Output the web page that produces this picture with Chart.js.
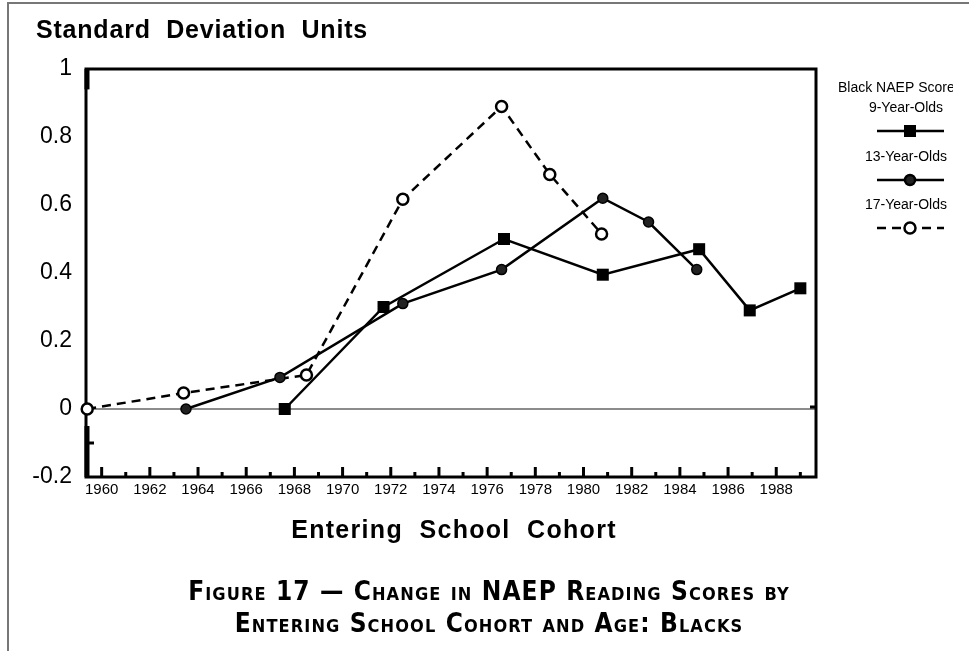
<!DOCTYPE html>
<html>
<head>
<meta charset="utf-8">
<script src="https://cdn.jsdelivr.net/npm/chart.js@4.4.0/dist/chart.umd.min.js"></script>
<style>
  body { margin: 0; background: #fff; font-family: "Liberation Sans", Arial, sans-serif; }
  #wrap { position: relative; width: 969px; height: 651px; overflow: hidden; }
  #frame { position: absolute; left: 7px; top: 2px; right: -10px; bottom: -10px;
           border-top: 2px solid #777; border-left: 2px solid #777; }
  #box { position: absolute; left: 0; top: 0; width: 969px; height: 651px; }
  .t { position: absolute; font-weight: bold; white-space: pre; color: #000; }
  #ytitle { left: 36px; top: 15px; font-size: 25px; letter-spacing: 0.8px; }
  #xtitle { left: 0; width: 908px; text-align: center; top: 515px; font-size: 25px; letter-spacing: 1.3px; }
  #cap { left: 0; width: 978px; text-align: center; top: 575px; font: bold 26px "DejaVu Sans Condensed", sans-serif;
         font-variant: small-caps; line-height: 32px; letter-spacing: 1.1px; }
</style>
</head>
<body>
<div id="wrap">
  <div id="frame"></div>
  <div id="box"><canvas id="chart"></canvas></div>
  <div class="t" id="ytitle">Standard  Deviation  Units</div>
  <div class="t" id="xtitle">Entering  School  Cohort</div>
  <div class="t" id="cap">Figure 17 — Change in NAEP Reading Scores by
Entering School Cohort and Age: Blacks</div>
</div>
<script>
// cohort years and score changes (standard deviation units)
const years9  = [1967.6, 1971.7, 1976.7, 1980.8, 1984.8, 1986.9, 1989.0];
const score9  = [0, 0.30, 0.50, 0.395, 0.47, 0.29, 0.355];
const years13 = [1963.5, 1967.4, 1972.5, 1976.6, 1980.8, 1982.7, 1984.7];
const score13 = [0, 0.093, 0.31, 0.41, 0.62, 0.55, 0.41];
const years17 = [1959.4, 1963.4, 1968.5, 1972.5, 1976.6, 1978.6, 1980.75];
const score17 = [0, 0.047, 0.10, 0.617, 0.89, 0.69, 0.515];

const xTicks = [1960, 1962, 1964, 1966, 1968, 1970, 1972, 1974, 1976, 1978, 1980, 1982, 1984, 1986, 1988];
const yTicks = [-0.2, 0, 0.2, 0.4, 0.6, 0.8, 1];
const legendTitle = "Black NAEP Scores";

const pts = (xs, ys) => xs.map((x, i) => ({ x, y: ys[i] }));

const frame = {
  id: "frame",
  beforeDatasetsDraw(c) {
    const { ctx, chartArea: a, scales: { x, y } } = c;
    ctx.save();
    // zero line
    const y0 = y.getPixelForValue(0);
    ctx.strokeStyle = "#8c8c8c";
    ctx.lineWidth = 2;
    ctx.beginPath(); ctx.moveTo(a.left, y0); ctx.lineTo(a.right, y0); ctx.stroke();
    // box
    ctx.strokeStyle = "#000";
    ctx.lineWidth = 3;
    ctx.strokeRect(a.left, a.top, a.right - a.left, a.bottom - a.top);
    // inward ticks, major every 2 years, minor between
    xTicks.forEach(v => {
      [[v, 10], [v + 1, 5]].forEach(([yr, len]) => {
        const px = x.getPixelForValue(yr);
        ctx.beginPath(); ctx.moveTo(px, a.bottom); ctx.lineTo(px, a.bottom - len); ctx.stroke();
      });
    });
    // odd little ticks on the side axes
    const ym = y.getPixelForValue(-0.1);
    ctx.beginPath(); ctx.moveTo(a.left, ym); ctx.lineTo(a.left + 8, ym); ctx.stroke();
    ctx.beginPath(); ctx.moveTo(a.right, y0 - 2); ctx.lineTo(a.right - 6, y0 - 2); ctx.stroke();
    ctx.lineWidth = 5;
    ctx.beginPath(); ctx.moveTo(a.left + 1, a.top); ctx.lineTo(a.left + 1, y.getPixelForValue(0.94)); ctx.stroke();
    ctx.beginPath(); ctx.moveTo(a.left + 1, y.getPixelForValue(-0.05)); ctx.lineTo(a.left + 1, a.bottom); ctx.stroke();
    ctx.restore();
  },
  afterDraw(c) {
    const ctx = c.ctx;
    ctx.save();
    ctx.fillStyle = "#000";
    ctx.font = "14px 'Liberation Sans', Arial, sans-serif";
    ctx.textBaseline = "middle";
    ctx.save();
    ctx.beginPath(); ctx.rect(820, 70, 133, 30); ctx.clip();
    ctx.textAlign = "left";
    ctx.fillText(legendTitle, 838, 88);
    ctx.restore();
    ctx.textAlign = "center";
    const rows = [108, 157, 205];
    c.data.datasets.forEach((ds, i) => {
      const ty = rows[i], ly = ty + 23;
      ctx.fillStyle = "#000";
      ctx.fillText(ds.label, 906, ty);
      ctx.save();
      ctx.strokeStyle = ds.borderColor;
      ctx.lineWidth = ds.borderWidth;
      ctx.setLineDash(ds.borderDash || []);
      ctx.beginPath(); ctx.moveTo(877, ly); ctx.lineTo(944, ly); ctx.stroke();
      ctx.setLineDash([]);
      ctx.fillStyle = ds.pointBackgroundColor;
      ctx.strokeStyle = ds.pointBorderColor;
      Chart.helpers.drawPoint(ctx, {
        pointStyle: ds.pointStyle, radius: ds.pointRadius, rotation: 0, borderWidth: ds.pointBorderWidth
      }, 910, ly);
      ctx.restore();
    });
    ctx.restore();
  }
};

new Chart(document.getElementById("chart"), {
  type: "line",
  data: {
    datasets: [
      {
        label: "9-Year-Olds", data: pts(years9, score9),
        borderColor: "#000", borderWidth: 2.5,
        pointStyle: "rect", pointRadius: 8.5, pointBackgroundColor: "#000",
        pointBorderColor: "#000", pointBorderWidth: 0, clip: false
      },
      {
        label: "13-Year-Olds", data: pts(years13, score13),
        borderColor: "#000", borderWidth: 2.5,
        pointStyle: "circle", pointRadius: 5, pointBackgroundColor: "#222",
        pointBorderColor: "#000", pointBorderWidth: 1.5, clip: false
      },
      {
        label: "17-Year-Olds", data: pts(years17, score17),
        borderColor: "#000", borderWidth: 2.5, borderDash: [9, 6],
        pointStyle: "circle", pointRadius: 5.5, pointBackgroundColor: "#fff",
        pointBorderColor: "#000", pointBorderWidth: 2.5, clip: false
      }
    ]
  },
  options: {
    responsive: true,
    maintainAspectRatio: false,
    animation: false,
    layout: { padding: { left: 0, top: 69, right: 153, bottom: 144 } },
    plugins: { legend: { display: false }, tooltip: { enabled: false } },
    scales: {
      x: {
        type: "linear", min: 1959.35, max: 1989.65,
        afterBuildTicks: s => { s.ticks = xTicks.map(v => ({ value: v })); },
        afterFit: s => { s.height = 30; },
        grid: { display: false, drawTicks: false },
        border: { display: false },
        ticks: { color: "#000", padding: 4, maxRotation: 0, autoSkip: false,
                 font: { family: "'Liberation Sans', Arial, sans-serif", size: 15 },
                 callback: v => String(v) }
      },
      y: {
        min: -0.2, max: 1,
        afterBuildTicks: s => { s.ticks = yTicks.map(v => ({ value: v })); },
        afterFit: s => { s.width = 86; },
        grid: { display: false, drawTicks: false },
        border: { display: false },
        ticks: { color: "#000", padding: 14,
                 font: { family: "'Liberation Sans', Arial, sans-serif", size: 23 },
                 callback: v => String(v) }
      }
    }
  },
  plugins: [frame]
});
</script>
</body>
</html>
